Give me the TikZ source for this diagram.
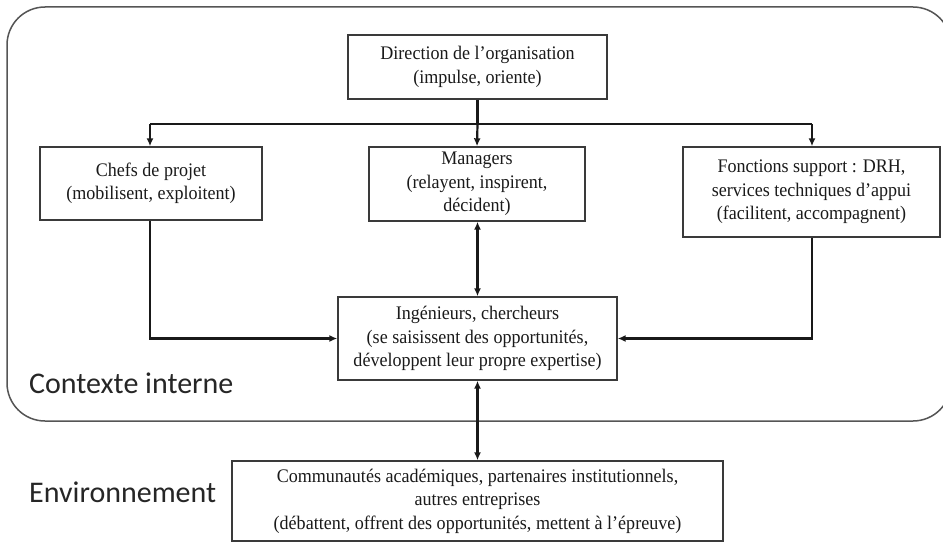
\documentclass[tikz,border=0pt]{standalone}
\usepackage{fontspec}
\setmainfont{Liberation Serif}[FakeStretch=0.94]
\newfontfamily\labelfont{Carlito}
\usetikzlibrary{arrows.meta}
\definecolor{boxline}{HTML}{3A3A3A}
\definecolor{frameline}{HTML}{555555}
\definecolor{txt}{HTML}{1A1A1A}
\tikzset{
  box/.style={draw=boxline, line width=1.4pt, fill=white, align=center, inner sep=0pt,
    font=\fontsize{19.2}{23.5}\selectfont, text=txt},
  conn/.style={line width=2.2pt, draw=black!90, -{Latex[length=8pt,width=7pt]}},
  conntwo/.style={line width=2.2pt, draw=black!90, {Latex[length=8pt,width=7pt]}-{Latex[length=8pt,width=7pt]}},
  plain/.style={line width=2.2pt, draw=black!90},
  ctxlabel/.style={font=\labelfont\fontsize{30}{34}\selectfont, text=black!85, anchor=base west, inner sep=0pt}
}
\begin{document}
\begin{tikzpicture}[x=1pt,y=-1pt]
\useasboundingbox (0,0) rectangle (943,543);
\clip (0,0) rectangle (943,543);
\fill[white] (0,0) rectangle (943,543);
% outer frame
\draw[frameline, line width=1.5pt, rounded corners=38pt] (7,7) rectangle (951,421);
% boxes
\node[box, minimum width=259pt, minimum height=64pt] (dir) at (477.5,67) {Direction de l’organisation\\(impulse, oriente)};
\node[box, minimum width=222pt, minimum height=73pt] (chefs) at (151,183.5) {Chefs de projet\\(mobilisent, exploitent)};
\node[box, minimum width=216pt, minimum height=74pt] (man) at (477,184) {Managers\\(relayent, inspirent,\\décident)};
\node[box, minimum width=257pt, minimum height=90pt] (fonc) at (811.5,192) {Fonctions support : DRH,\\services techniques d’appui\\(facilitent, accompagnent)};
\node[box, minimum width=279pt, minimum height=83pt] (ing) at (477.5,338.5) {Ingénieurs, chercheurs\\(se saisissent des opportunités,\\développent leur propre expertise)};
\node[box, minimum width=491pt, minimum height=80pt] (com) at (477.5,501) {Communautés académiques, partenaires institutionnels,\\autres entreprises\\(débattent, offrent des opportunités, mettent à l’épreuve)};
% labels
\node[ctxlabel] (ctx) at (29,393) {Contexte interne};
\node[ctxlabel] (env) at (29,502) {Environnement};
% connectors
\coordinate (hub) at (dir.south |- 0,124);
\coordinate (cl) at (150,124);
\coordinate (cr) at (812,124);
\draw[plain] (dir.south) -- (hub);
\draw[plain] (cl) -- (cr);
\draw[conn] (hub) -- (man.north);
\draw[conn] (cl) -- (cl |- chefs.north);
\draw[conn] (cr) -- (cr |- fonc.north);
\draw[conn] (cl |- chefs.south) |- (ing.west);
\draw[conn] (cr |- fonc.south) |- (ing.east);
\draw[conntwo] (man.south -| ing.north) -- (ing.north);
\draw[conntwo] (ing.south) -- (com.north);
\end{tikzpicture}
\end{document}
